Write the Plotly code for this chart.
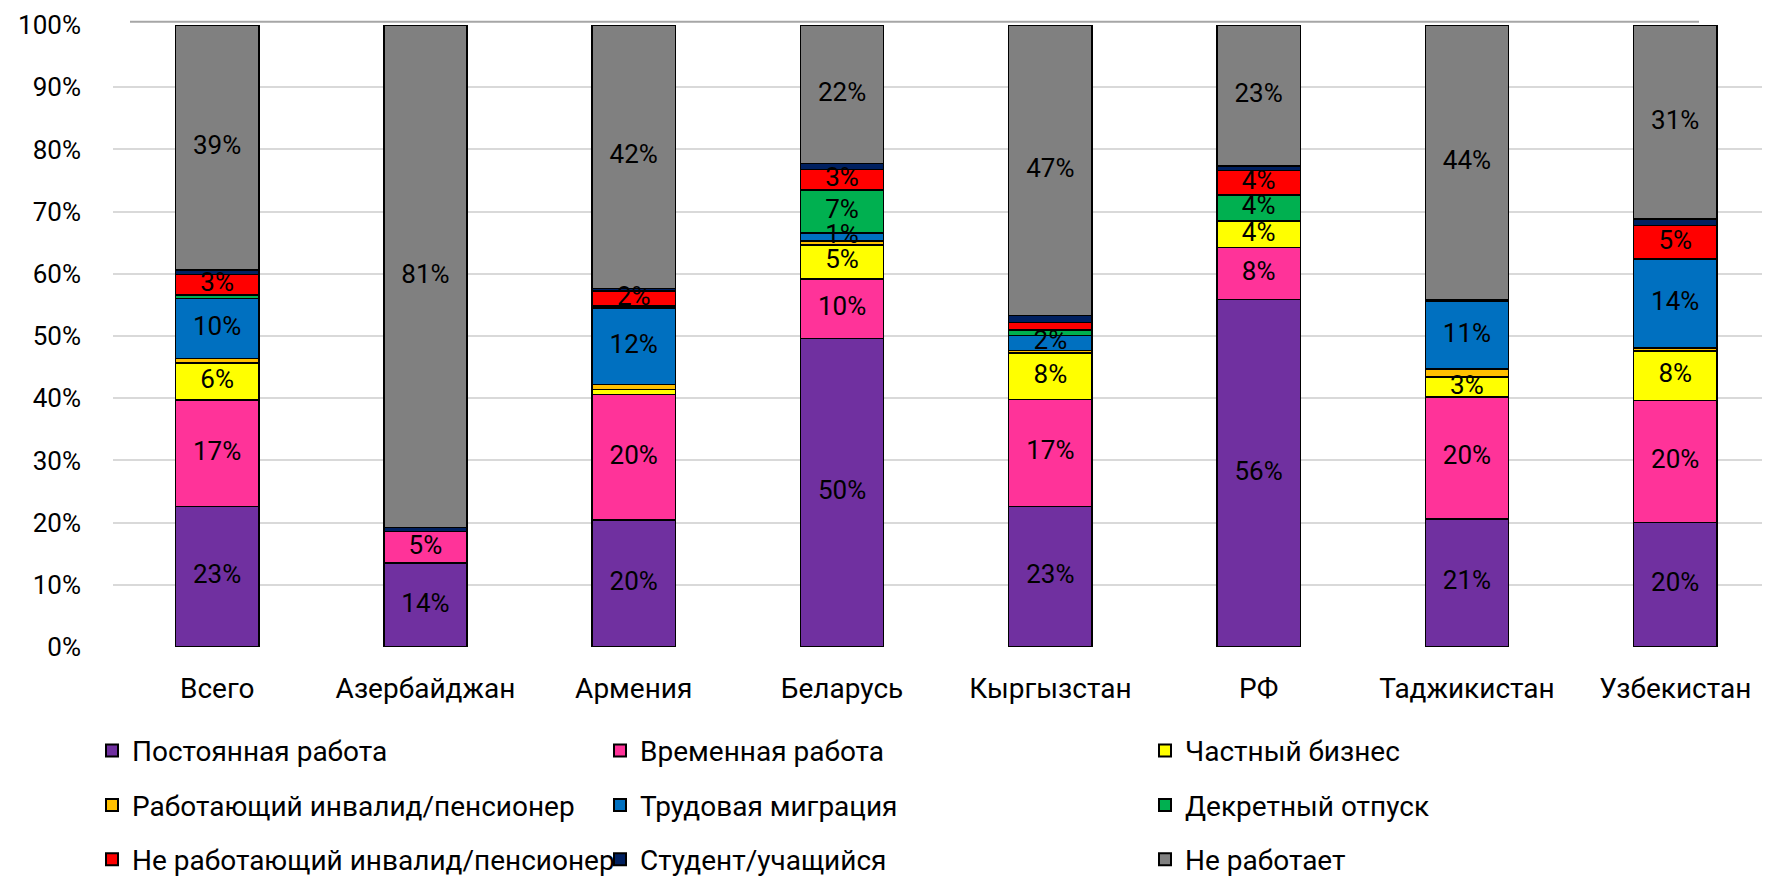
import plotly.graph_objects as go

categories = ["Всего", "Азербайджан", "Армения", "Беларусь", "Кыргызстан", "РФ", "Таджикистан", "Узбекистан"]

series_names = [
    "Постоянная работа", "Временная работа", "Частный бизнес",
    "Работающий инвалид/пенсионер", "Трудовая миграция", "Декретный отпуск",
    "Не работающий инвалид/пенсионер", "Студент/учащийся", "Не работает",
]

permanent = [22.6, 13.5, 20.4, 49.6, 22.6, 55.9, 20.6, 20.0]
temporary = [17.1, 5.1, 20.2, 9.6, 17.2, 8.3, 19.6, 19.6]
business = [6.0, 0.0, 0.8, 5.4, 7.5, 4.3, 3.2, 8.0]
working_pensioner = [0.7, 0.0, 0.8, 0.7, 0.4, 0.0, 1.3, 0.5]
migration = [9.6, 0.0, 12.3, 1.3, 2.4, 0.0, 10.9, 14.3]
maternity = [0.6, 0.0, 0.3, 6.9, 0.9, 4.2, 0.0, 0.0]
nonworking_pensioner = [3.3, 0.0, 2.4, 3.3, 1.2, 3.9, 0.0, 5.4]
student = [0.7, 0.6, 0.4, 0.9, 1.1, 0.7, 0.3, 1.0]
not_working = [39.4, 80.8, 42.4, 22.3, 46.7, 22.7, 44.1, 31.2]

series_values = [permanent, temporary, business, working_pensioner, migration,
                 maternity, nonworking_pensioner, student, not_working]
colors = ["#7030A0", "#FF3399", "#FFFF00", "#FFC000", "#0070C0",
          "#00B050", "#FF0000", "#002060", "#808080"]
labelled = [True, True, True, False, True, True, True, False, True]

FONT = "Roboto"
FS_LAB = 26
FS_TXT = 28

# the page body adds an 8px margin, so the figure is 8px smaller and all
# screen targets below are given in screen pixels and converted
OFF = 8
W, H = 1770 - OFF, 876 - OFF
L, R, T = 113 - OFF, 0, 25 - OFF
B = H - (646.7 - OFF)
plot_w = W - L - R
plot_h = H - T - B


def px_to_paper_x(px):
    return (px - OFF - L) / plot_w


def px_to_paper_y(py):
    return (H - B - (py - OFF)) / plot_h


fig = go.Figure()
legend_ids = ["legend", "legend2", "legend3"]
for i, (name, vals, col) in enumerate(zip(series_names, series_values, colors)):
    fig.add_trace(go.Bar(
        x=categories, y=vals, name=name,
        marker=dict(color=col, line=dict(color="#000000", width=1.5)),
        legend=legend_ids[i % 3], legendgroup=f"g{i}",
        hoverinfo="skip",
    ))

# data labels drawn on top of all bars (as in the original), centred in each segment
lab_x, lab_y, lab_t = [], [], []
base = [0.0] * len(categories)
for vals, lab in zip(series_values, labelled):
    for j, v in enumerate(vals):
        if lab and v >= 1.25:
            lab_x.append(categories[j])
            lab_y.append(base[j] + v / 2)
            lab_t.append(f"{int(v + 0.5)}%")
        base[j] += v

fig.add_trace(go.Scatter(
    x=lab_x, y=lab_y, text=lab_t, mode="text",
    textposition="middle center",
    textfont=dict(family=FONT, size=FS_LAB, color="#000000"),
    showlegend=False, hoverinfo="skip", cliponaxis=False,
))

legend_common = dict(
    orientation="v", traceorder="grouped", tracegroupgap=15,
    font=dict(family=FONT, size=FS_TXT, color="#000000"),
    bgcolor="rgba(0,0,0,0)", borderwidth=0,
    xanchor="left", yanchor="top", itemsizing="constant",
)
leg_y = px_to_paper_y(725.5)
col_px = [92, 600, 1145]

fig.update_layout(
    width=W, height=H,
    margin=dict(l=L, r=R, t=T, b=B, pad=0, autoexpand=False),
    paper_bgcolor="white", plot_bgcolor="white",
    barmode="stack", bargap=0.6,
    font=dict(family=FONT, size=FS_TXT, color="#000000"),
    xaxis=dict(
        range=[-0.5, -0.5 + plot_w / 208.3],
        showgrid=False, showline=False, zeroline=False, ticks="",
        tickfont=dict(family=FONT, size=FS_TXT, color="#000000"),
        ticklabelstandoff=22,
    ),
    yaxis=dict(
        range=[0, 100], dtick=10, ticksuffix="%",
        showgrid=True, gridcolor="#D9D9D9", gridwidth=1.5,
        showline=False, zeroline=False, ticks="",
        tickfont=dict(family=FONT, size=FS_LAB, color="#000000"),
        ticklabelstandoff=31,
    ),
    legend=dict(x=px_to_paper_x(col_px[0]), y=leg_y, **legend_common),
    legend2=dict(x=px_to_paper_x(col_px[1]), y=leg_y, **legend_common),
    legend3=dict(x=px_to_paper_x(col_px[2]), y=leg_y, **legend_common),
    shapes=[dict(
        type="line", xref="paper", yref="paper",
        x0=px_to_paper_x(130), x1=px_to_paper_x(1699),
        y0=px_to_paper_y(21.7), y1=px_to_paper_y(21.7),
        line=dict(color="#A6A6A6", width=2),
    )],
)

fig.write_html("out.html")
